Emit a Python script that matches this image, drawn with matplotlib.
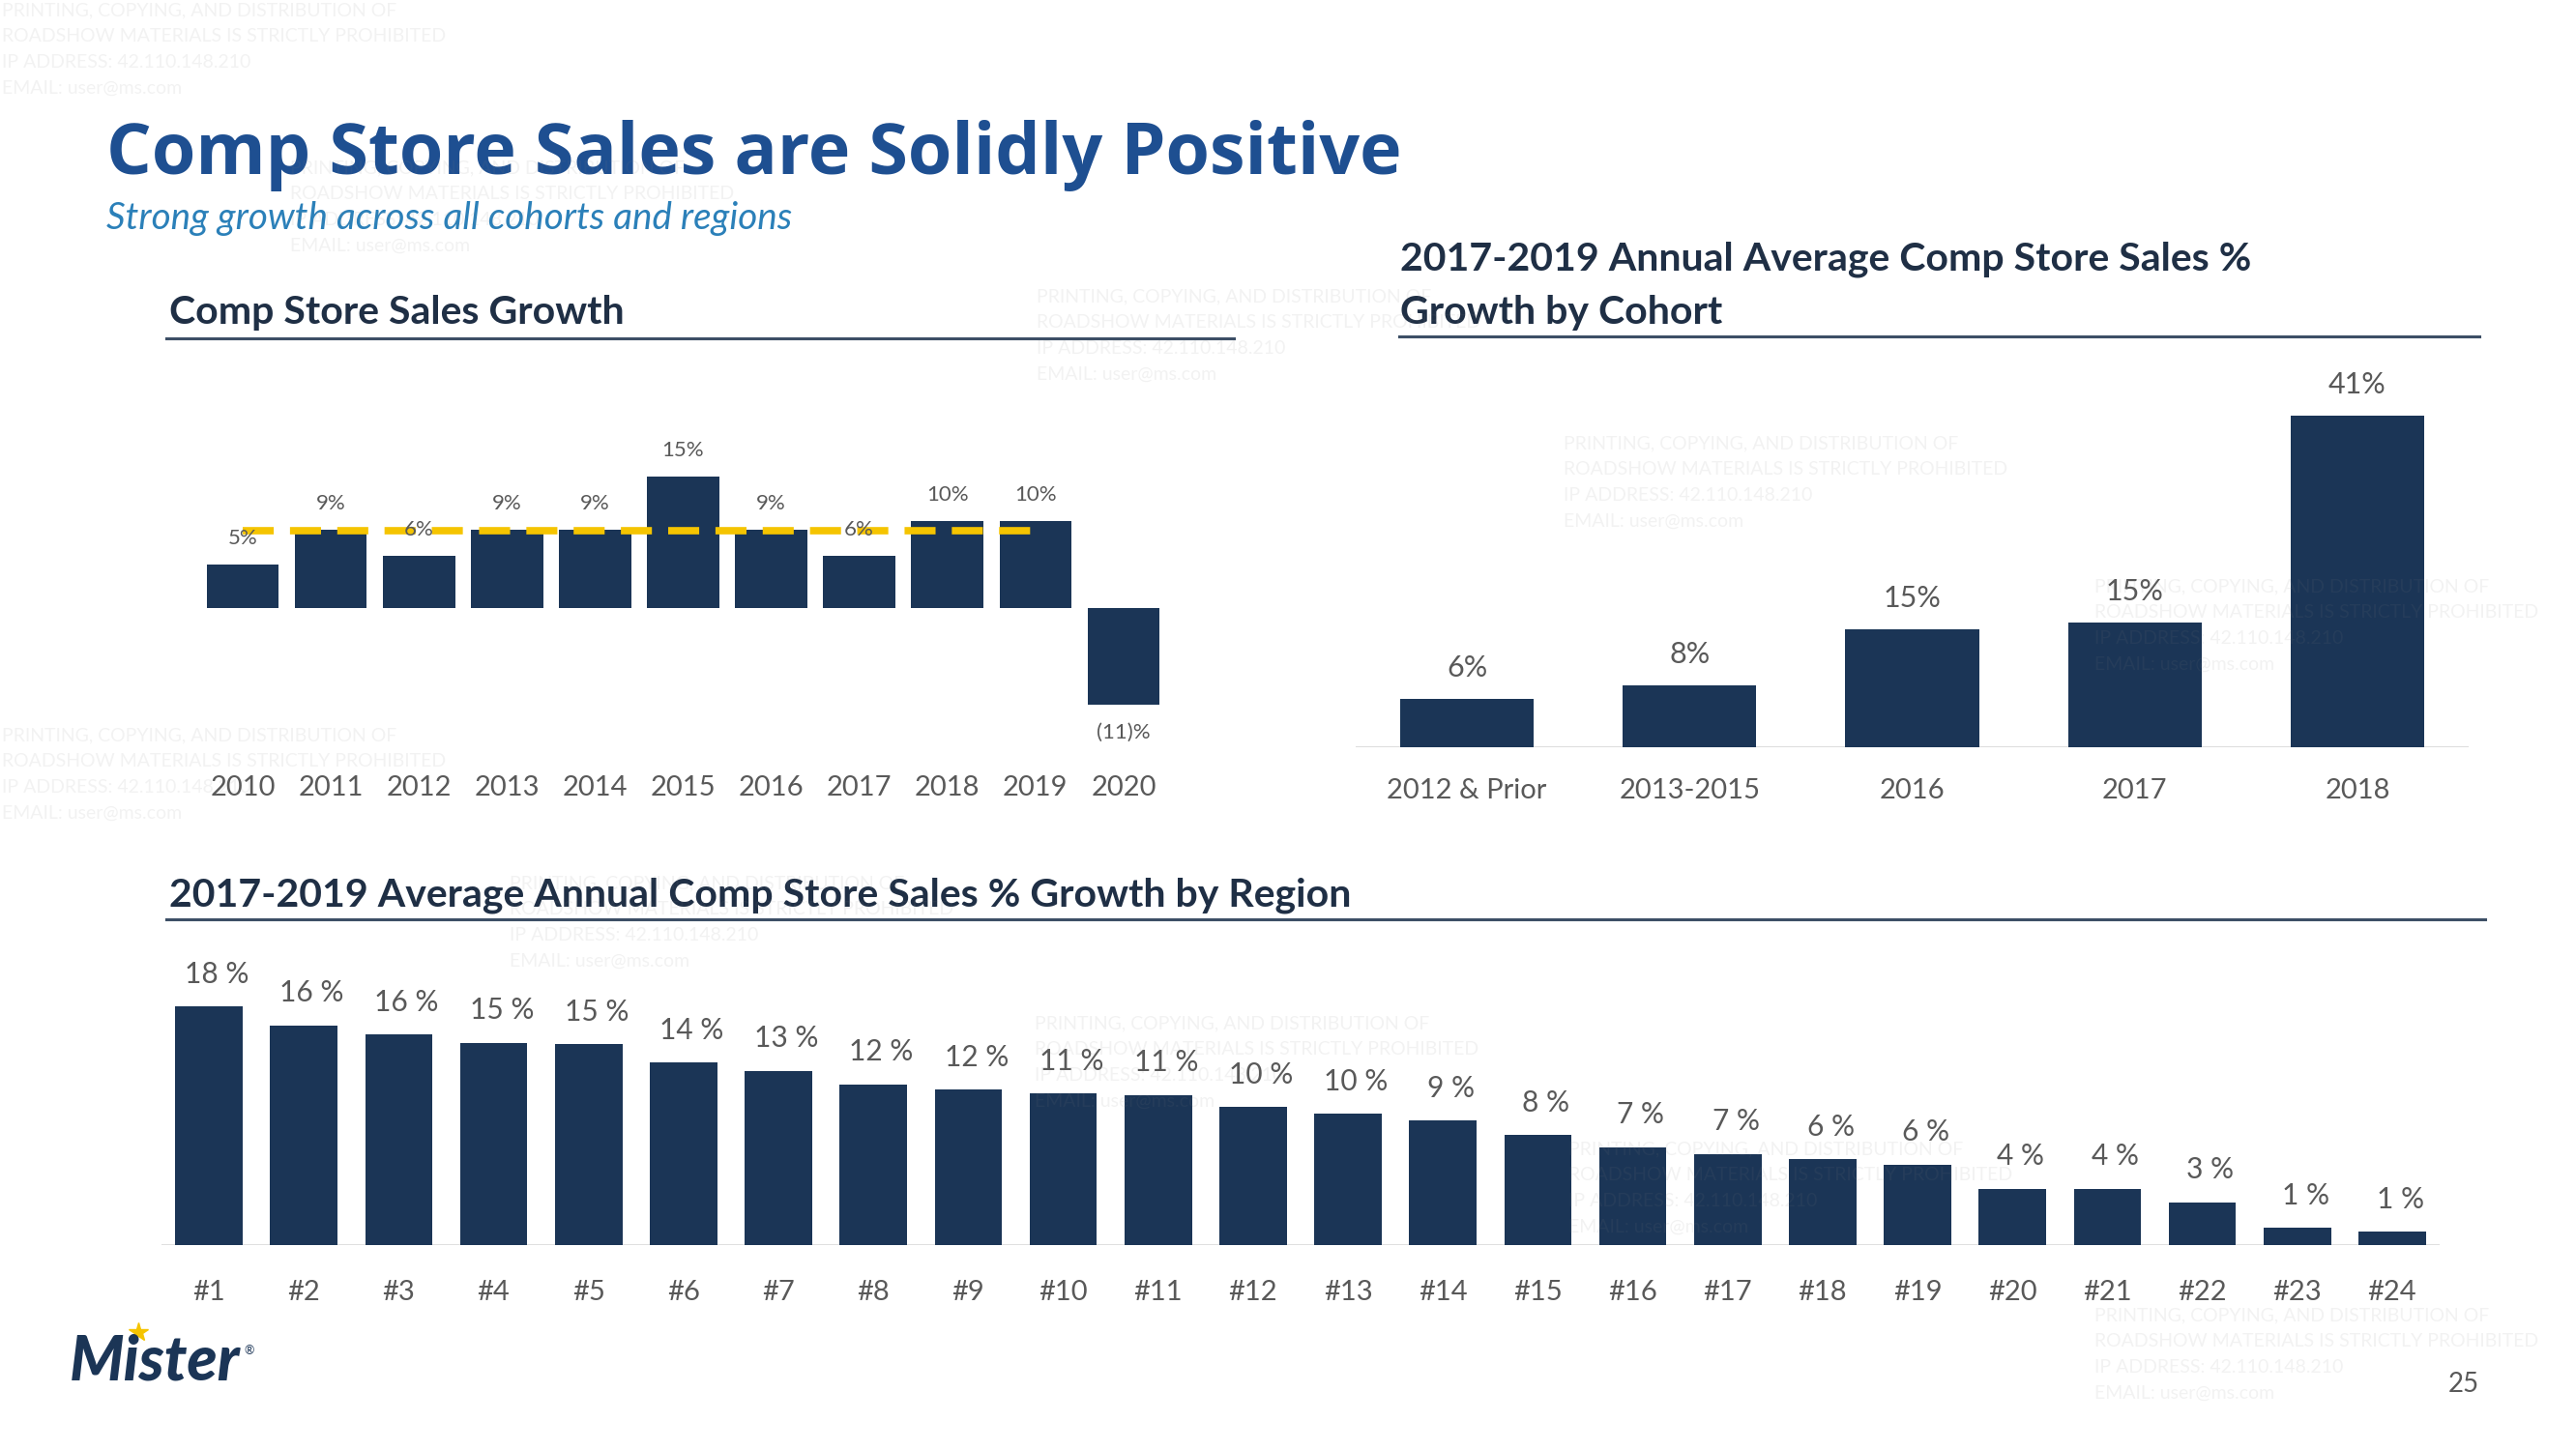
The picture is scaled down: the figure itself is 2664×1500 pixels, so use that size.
import matplotlib
matplotlib.use('Agg')
import matplotlib.pyplot as plt
from matplotlib.lines import Line2D

plt.rcParams['font.family'] = ['Lato', 'DejaVu Sans']

# data
years = ['2010', '2011', '2012', '2013', '2014', '2015', '2016', '2017', '2018', '2019', '2020']
comp_growth = [5, 9, 6, 9, 9, 15, 9, 6, 10, 10, -11]
comp_labels = ['5%', '9%', '6%', '9%', '9%', '15%', '9%', '6%', '10%', '10%', '(11)%']
avg_level = 8.8  # dashed average line, 2010-2019

cohorts = ['2012 & Prior', '2013-2015', '2016', '2017', '2018']
cohort_growth = [6.0, 7.7, 14.6, 15.4, 41.0]
cohort_labels = ['6%', '8%', '15%', '15%', '41%']

regions = ['#%d' % i for i in range(1, 25)]
region_growth = [17.8, 16.4, 15.7, 15.1, 15.0, 13.6, 13.0, 12.0, 11.6, 11.3, 11.2, 10.3,
                 9.8, 9.3, 8.2, 7.3, 6.8, 6.4, 6.0, 4.2, 4.2, 3.2, 1.3, 1.0]
region_labels = ['18 %', '16 %', '16 %', '15 %', '15 %', '14 %', '13 %', '12 %', '12 %', '11 %',
                 '11 %', '10 %', '10 %', '9 %', '8 %', '7 %', '7 %', '6 %', '6 %', '4 %', '4 %',
                 '3 %', '1 %', '1 %']

NAVY = '#1b3556'
TITLE = '#1e4f91'
SUB = '#2b80b9'
HEAD = '#1f2f45'
GRAY = '#595959'
RULE = '#3d4f66'
GOLD = '#f5c400'

W, H = 2664, 1500
fig = plt.figure(figsize=(W / 100, H / 100), dpi=100)


def fx(px):
    return px / W


def fy(py):
    return 1 - py / H


def rect(left, top, right, bottom):
    return [fx(left), fy(bottom), (right - left) / W, (bottom - top) / H]


# titles
fig.text(fx(110), fy(161), 'Comp Store Sales are Solidly Positive', fontsize=53,
         weight='bold', color=TITLE, va='center', family=['Open Sans', 'DejaVu Sans'])
fig.text(fx(110), fy(226), 'Strong growth across all cohorts and regions', fontsize=27.8,
         style='italic', color=SUB, va='center')

fig.text(fx(175), fy(323), 'Comp Store Sales Growth', fontsize=29.5, weight='bold',
         color=HEAD, va='center')
fig.text(fx(1448), fy(268), '2017-2019 Annual Average Comp Store Sales %', fontsize=29.5,
         weight='bold', color=HEAD, va='center')
fig.text(fx(1448), fy(323), 'Growth by Cohort', fontsize=29.5, weight='bold',
         color=HEAD, va='center')
fig.text(fx(175), fy(926), '2017-2019 Average Annual Comp Store Sales % Growth by Region',
         fontsize=29.5, weight='bold', color=HEAD, va='center')

for x0, x1, yy in [(172, 1276, 350), (1447, 2564, 348), (172, 2570, 951)]:
    fig.add_artist(Line2D([fx(x0), fx(x1)], [fy(yy), fy(yy)], color=RULE, lw=2.2,
                          transform=fig.transFigure))

# ---- left: comp store sales growth by year
ax1 = fig.add_axes(rect(205.5, 448, 1207.5, 756))
x1 = list(range(len(years)))
ax1.bar(x1, comp_growth, width=0.82, color=NAVY, zorder=2)
ax1.plot([0, 9], [avg_level, avg_level], color=GOLD, lw=5.5, dashes=(4.2, 2.2), zorder=3)
for i, (v, lab) in enumerate(zip(comp_growth, comp_labels)):
    off = 19.5 if v >= 0 else -21
    ax1.annotate(lab, (i, v), xytext=(0, off), textcoords='offset points',
                 ha='center', va='center', fontsize=16, color=GRAY, zorder=4)
ax1.set_xlim(-0.5, 10.5)
ax1.set_ylim(-14, 20)
ax1.set_xticks(x1)
ax1.set_xticklabels(years, fontsize=21, color=GRAY)
ax1.tick_params(axis='x', length=0, pad=33)
ax1.set_yticks([])
for s in ax1.spines.values():
    s.set_visible(False)
ax1.patch.set_alpha(0)

# ---- right: growth by cohort
ax2 = fig.add_axes(rect(1402, 371, 2553, 773))
x2 = list(range(len(cohorts)))
ax2.bar(x2, cohort_growth, width=0.6, color=NAVY, zorder=2)
ax2.axhline(0, color='#d9d9d9', lw=2, zorder=1)
for i, (v, lab) in enumerate(zip(cohort_growth, cohort_labels)):
    ax2.annotate(lab, (i, v), xytext=(0, 23), textcoords='offset points',
                 ha='center', va='center', fontsize=22, color=GRAY)
ax2.set_xlim(-0.5, 4.5)
ax2.set_ylim(0, 48)
ax2.set_xticks(x2)
ax2.set_xticklabels(cohorts, fontsize=21, color=GRAY)
ax2.tick_params(axis='x', length=0, pad=23)
ax2.set_yticks([])
for s in ax2.spines.values():
    s.set_visible(False)
ax2.patch.set_alpha(0)

# ---- bottom: growth by region
ax3 = fig.add_axes(rect(167, 983, 2523, 1288))
x3 = list(range(len(regions)))
ax3.bar(x3, region_growth, width=0.71, color=NAVY, zorder=2)
ax3.axhline(0, color='#dcdcdc', lw=2, zorder=1)
for i, (v, lab) in enumerate(zip(region_growth, region_labels)):
    ax3.annotate(lab, (i, v), xytext=(6, 24), textcoords='offset points',
                 ha='center', va='center', fontsize=21.5, color=GRAY)
ax3.set_xlim(-0.5, 23.5)
ax3.set_ylim(0, 22)
ax3.set_xticks(x3)
ax3.set_xticklabels(regions, fontsize=21, color=GRAY)
ax3.tick_params(axis='x', length=0, pad=26)
ax3.set_yticks([])
for s in ax3.spines.values():
    s.set_visible(False)
ax3.patch.set_alpha(0)

# logo and page number
fig.text(fx(72), fy(1409), 'Mister', fontsize=46, weight='black', style='italic',
         color=NAVY, va='center')
fig.add_artist(Line2D([fx(143)], [fy(1378)], marker='*', markersize=15, color=GOLD,
                      transform=fig.transFigure))
fig.text(fx(252), fy(1397), '®', fontsize=9, color=NAVY, va='center')
fig.text(fx(2548), fy(1432), '25', fontsize=20, color=GRAY, ha='center', va='center')

# faint watermark blocks laid over the slide
wm_text = ('PRINTING, COPYING, AND DISTRIBUTION OF\nROADSHOW MATERIALS IS STRICTLY PROHIBITED\n'
           'IP ADDRESS: 42.110.148.210\nEMAIL: user@ms.com')
for wx, wy in [(2, 2), (1072, 298), (1617, 450), (2, 752), (2166, 598),
               (2166, 1352), (527, 905), (1070, 1050), (1622, 1180), (300, 165)]:
    fig.text(fx(wx), fy(wy), wm_text, fontsize=14, color='#808080', alpha=0.1,
             va='top', ha='left', linespacing=1.7, zorder=10)

fig.savefig('out.png', dpi=100)
